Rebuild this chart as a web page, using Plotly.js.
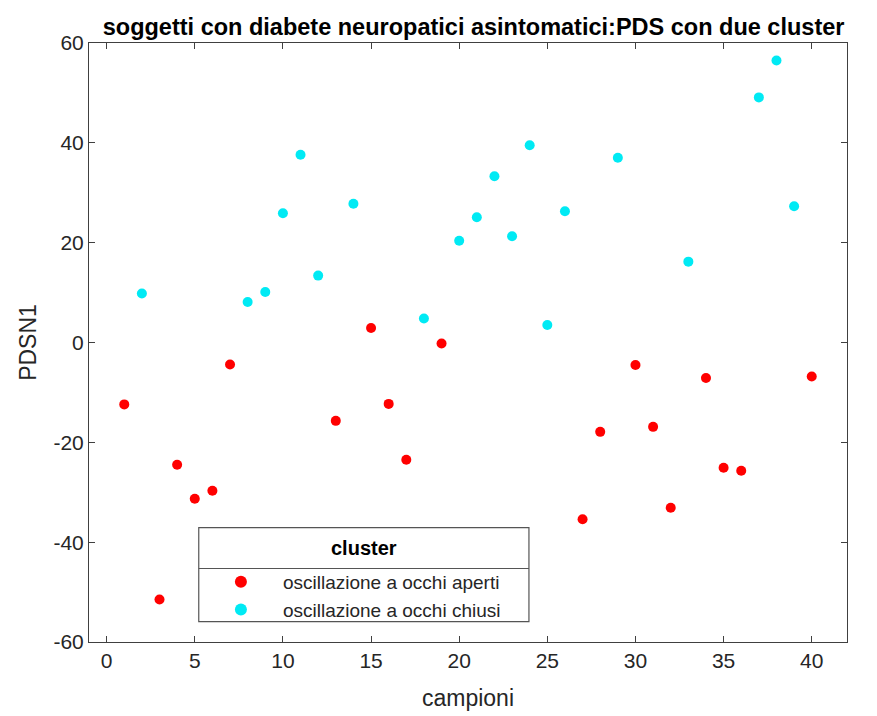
<!DOCTYPE html>
<html>
<head>
<meta charset="utf-8">
<script src="https://cdn.plot.ly/plotly-3.0.1.min.js"></script>
<style>html,body{margin:0;padding:0;background:#fff;}#chart{width:877px;height:716px;}</style>
</head>
<body>
<div id="chart"></div>
<script>
// Cluster 1: oscillazione a occhi aperti
const apertiX = [1, 3, 4, 5, 6, 7, 13, 15, 16, 17, 19, 27, 28, 30, 31, 32, 34, 35, 36, 40];
const apertiY = [-12.4, -51.5, -24.5, -31.3, -29.7, -4.4, -15.7, 2.9, -12.3, -23.5, -0.2, -35.4, -17.9, -4.5, -16.9, -33.1, -7.1, -25.1, -25.7, -6.8];
// Cluster 2: oscillazione a occhi chiusi
const chiusiX = [2, 8, 9, 10, 11, 12, 14, 18, 20, 21, 22, 23, 24, 25, 26, 29, 33, 37, 38, 39];
const chiusiY = [9.8, 8.1, 10.1, 25.9, 37.6, 13.4, 27.8, 4.8, 20.4, 25.1, 33.3, 21.3, 39.5, 3.5, 26.3, 37.0, 16.2, 49.1, 56.5, 27.3];

const xTicks = [0, 5, 10, 15, 20, 25, 30, 35, 40];
const yTicks = [-60, -40, -20, 0, 20, 40, 60];
const legendTitle = 'cluster';

const FONT = 'Liberation Sans, Arial, Helvetica, sans-serif';
const TXT = '#262626';

const traces = [
  {x: apertiX, y: apertiY, type: 'scatter', mode: 'markers', name: 'oscillazione a occhi aperti',
   marker: {color: '#ff0000', size: 10}},
  {x: chiusiX, y: chiusiY, type: 'scatter', mode: 'markers', name: 'oscillazione a occhi chiusi',
   marker: {color: '#00eaf4', size: 10}}
];

const axisCommon = {
  showgrid: false, zeroline: false, showline: true, mirror: 'ticks',
  linecolor: '#404040', linewidth: 1, ticks: 'inside', ticklen: 6, tickcolor: '#404040',
  tickfont: {family: FONT, size: 21, color: TXT}, automargin: false
};

const layout = {
  width: 877, height: 716,
  margin: {l: 89, r: 30, t: 43, b: 74},
  paper_bgcolor: '#ffffff', plot_bgcolor: '#ffffff',
  title: {text: '<b>soggetti con diabete neuropatici asintomatici:PDS con due cluster</b>',
          font: {family: FONT, size: 23.5, color: '#000'}, x: 0.54, xanchor: 'center', y: 0.962, yanchor: 'middle'},
  xaxis: Object.assign({}, axisCommon, {range: [-1, 42], tickvals: xTicks, ticktext: xTicks.map(String),
          title: {text: 'campioni', font: {family: FONT, size: 23, color: TXT}, standoff: 18}}),
  yaxis: Object.assign({}, axisCommon, {range: [-60, 60], tickvals: yTicks, ticktext: yTicks.map(String),
          title: {text: 'PDSN1', font: {family: FONT, size: 23, color: TXT}, standoff: 10}}),
  showlegend: true,
  legend: {
    x: 0.145, y: 0.132, xanchor: 'left', yanchor: 'top',
    bgcolor: 'rgba(0,0,0,0)', borderwidth: 0,
    font: {family: FONT, size: 19, color: TXT},
    itemwidth: 74, itemsizing: 'constant', tracegroupgap: 0
  },
  annotations: [
    {text: '<b>' + legendTitle + '</b>', xref: 'paper', yref: 'paper', x: 0.3626, y: 0.157,
     xanchor: 'center', yanchor: 'middle', showarrow: false, font: {family: FONT, size: 20, color: '#000'}}
  ],
  shapes: [
    {type: 'rect', xref: 'paper', yref: 'paper', x0: 0.1448, x1: 0.5804, y0: 0.034, y1: 0.191,
     line: {color: '#555', width: 1.2}, fillcolor: '#ffffff', layer: 'above'},
    {type: 'line', xref: 'paper', yref: 'paper', x0: 0.1448, x1: 0.5804, y0: 0.1227, y1: 0.1227,
     line: {color: '#555', width: 1.2}, layer: 'above'}
  ]
};

Plotly.newPlot('chart', traces, layout, {displayModeBar: false, staticPlot: true});
</script>
</body>
</html>
